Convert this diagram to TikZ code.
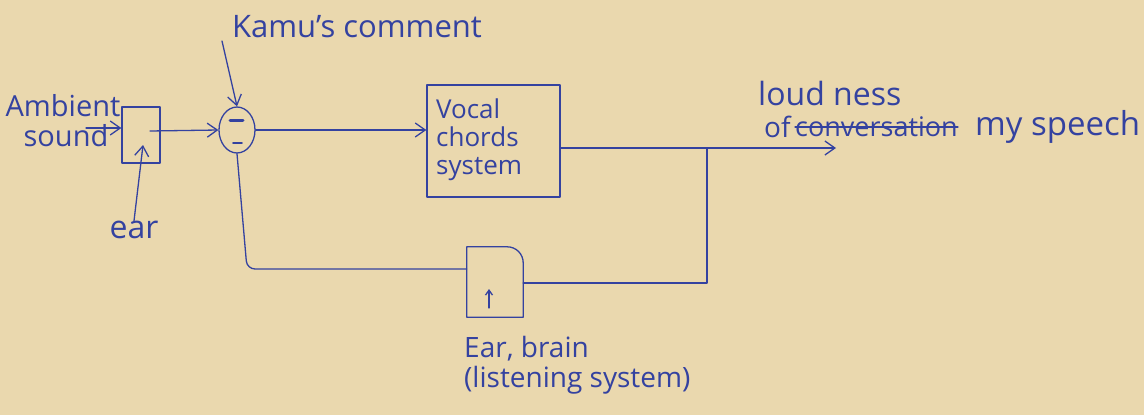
\documentclass[tikz,border=0pt]{standalone}
\usepackage{fontspec}
\setmainfont{Open Sans}
\usetikzlibrary{arrows.meta,shapes.geometric}
\definecolor{paper}{RGB}{234,216,174}
\definecolor{ink}{RGB}{52,66,160}
\tikzset{
  pen/.style={draw=ink, line width=1.3pt, line cap=round, line join=round},
  arr/.style={pen, -{Straight Barb[length=10pt,width=14pt]}},
  hand/.style={text=ink, font=\fontsize{26}{30}\selectfont, inner sep=0pt, align=left},
  blk/.style={pen, rectangle, inner sep=0pt},
}
\begin{document}
\begin{tikzpicture}[x=1pt,y=-1pt]
\useasboundingbox[fill=paper] (0,0) rectangle (1144,415);
% ear block
\node[blk, minimum width=38pt, minimum height=56pt] (earbox) at (141,135) {};
\node[hand, align=left, font=\fontsize{29}{30}\selectfont] (amb) at (63,121) {Ambient\\\hspace*{18pt}sound};
\coordinate (ambS) at (86,128);
\draw[arr] (ambS) -- (ambS -| earbox.west);
\node[hand, font=\fontsize{32}{34}\selectfont] (earlbl) at (134,230) {ear};
\coordinate (earin) at (143,145);
\draw[arr] (earlbl.north) -- (earin);
% summing junction
\node[pen, ellipse, minimum width=36pt, minimum height=46pt, inner sep=0pt] (sum) at (237,130) {};
\draw[pen, line width=3pt] ([xshift=-7pt,yshift=10pt]sum.center) -- ([xshift=6pt,yshift=10pt]sum.center);
\draw[pen, line width=1.6pt] ([xshift=-4pt,yshift=-13pt]sum.center) -- ([xshift=5pt,yshift=-13pt]sum.center);
\coordinate (earout) at (150,131);
\draw[arr] (earout) -- (sum.west);
\node[hand, font=\fontsize{31}{34}\selectfont] (kamu) at (357,27) {Kamu's comment};
\coordinate (kstart) at (222,41);
\draw[arr] (kstart) -- (sum.north);
% vocal chords
\node[blk, minimum width=133pt, minimum height=112pt] (vocal) at (493.5,141) {};
\node[hand, anchor=north west] (vtxt) at (436,99) {Vocal\\[-2pt]chords\\[-2pt]system};
\draw[arr] (sum.east) -- (sum.east -| vocal.west);
% output
\coordinate (br) at (707,148);
\coordinate (outend) at (836,148);
\draw[pen] (vocal.east |- br) -- (br);
\draw[arr] (br) -- (outend);
\node[hand, anchor=west, font=\fontsize{32}{34}\selectfont] (loud) at (758,93) {loud ness};
\node[hand, anchor=west, font=\fontsize{28}{30}\selectfont] (of) at (764,127) {of};
\node[hand, anchor=west, font=\fontsize{27}{30}\selectfont] (conv) at (795,127) {conversation};
\draw[pen] (conv.west) -- (conv.east);
\node[hand, anchor=west, font=\fontsize{33}{34}\selectfont] (mysp) at (975,127) {my speech};
% listening system
\node[minimum width=56pt, minimum height=70pt, inner sep=0pt] (ebox) at (495,282) {};
\draw[pen] (ebox.south west) -- (ebox.north west) -- ([xshift=-16pt]ebox.north east)
  to[out=0,in=90] ([yshift=-16pt]ebox.north east) -- (ebox.south east) -- cycle;
\coordinate (einA) at (489,308);
\coordinate (einB) at (489,289);
\draw[pen, -{Straight Barb[length=5pt,width=7pt]}] (einA) -- (einB);
\node[hand, anchor=north west, font=\fontsize{28}{30}\selectfont] (elbl) at (464,336) {Ear, brain\\(listening system)};
% feedback
\coordinate (brlow) at (707,283);
\draw[pen] (br) -- (brlow) -- (brlow -| ebox.east);
\coordinate (fbc) at (247,269);
\draw[pen, rounded corners=8pt] (fbc -| ebox.west) -- (fbc) -- (sum.south);
\end{tikzpicture}
\end{document}
